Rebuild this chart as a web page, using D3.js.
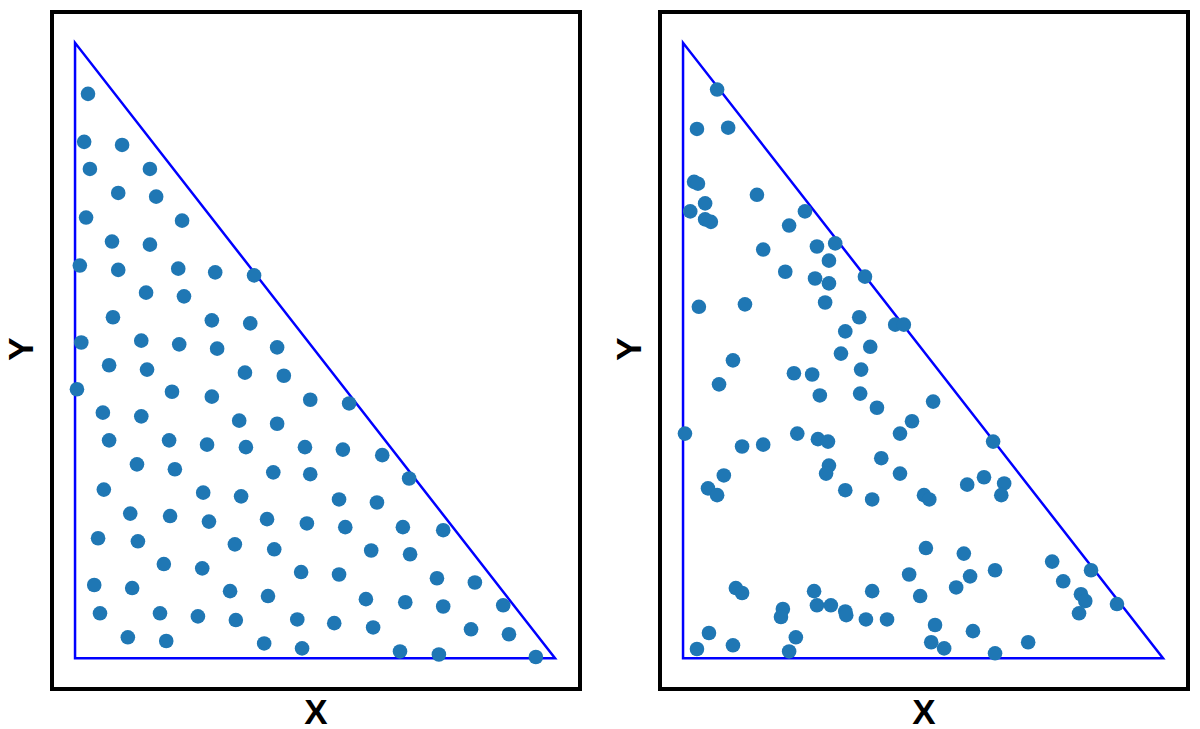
<!DOCTYPE html>
<html>
<head>
<meta charset="utf-8">
<script src="https://cdn.jsdelivr.net/npm/d3@7"></script>
<style>
  html, body { margin: 0; padding: 0; background: #fff; }
  svg { display: block; }
</style>
</head>
<body>
<svg id="chart" width="1200" height="729"></svg>
<script>
// Left panel: evenly spread points in the triangle
const leftX = [0.027,0.019,0.098,0.031,0.156,0.090,0.169,0.023,0.223,0.077,0.156,0.010,0.090,0.215,0.292,0.373,0.148,0.227,0.079,0.285,
  0.365,0.013,0.138,0.217,0.296,0.421,0.071,0.150,0.354,0.435,0.004,0.202,0.285,0.490,0.571,0.058,0.138,0.342,0.421,0.071,
  0.196,0.275,0.356,0.479,0.558,0.640,0.129,0.208,0.413,0.490,0.696,0.060,0.267,0.346,0.550,0.629,0.115,0.198,0.279,0.400,
  0.483,0.563,0.683,0.767,0.048,0.131,0.333,0.415,0.617,0.698,0.185,0.265,0.471,0.550,0.754,0.833,0.040,0.119,0.323,0.402,
  0.606,0.688,0.767,0.892,0.052,0.177,0.256,0.335,0.463,0.540,0.621,0.825,0.904,0.110,0.190,0.394,0.473,0.677,0.758,0.960];
const leftY = [0.917,0.839,0.834,0.795,0.795,0.756,0.750,0.716,0.711,0.677,0.672,0.638,0.631,0.633,0.627,0.622,0.594,0.588,0.554,0.549,
  0.544,0.513,0.516,0.510,0.503,0.505,0.476,0.469,0.464,0.459,0.437,0.433,0.425,0.420,0.414,0.399,0.393,0.386,0.381,0.354,
  0.354,0.347,0.343,0.343,0.339,0.330,0.315,0.307,0.302,0.299,0.292,0.274,0.269,0.263,0.258,0.253,0.235,0.231,0.222,0.226,
  0.219,0.213,0.213,0.208,0.195,0.190,0.185,0.177,0.175,0.169,0.153,0.146,0.140,0.136,0.130,0.123,0.119,0.114,0.109,0.101,
  0.096,0.091,0.084,0.086,0.073,0.073,0.068,0.062,0.063,0.057,0.050,0.047,0.039,0.034,0.028,0.024,0.016,0.011,0.006,0.002];

// Right panel: random points in the triangle
const rightX = [0.071,0.029,0.094,0.023,0.031,0.154,0.046,0.015,0.046,0.058,0.254,0.221,0.279,0.317,0.167,0.304,0.213,0.275,0.304,0.379,
  0.296,0.033,0.129,0.367,0.338,0.442,0.460,0.390,0.329,0.104,0.075,0.231,0.269,0.371,0.285,0.369,0.404,0.477,0.004,0.238,
  0.281,0.302,0.452,0.123,0.167,0.304,0.298,0.413,0.452,0.085,0.052,0.071,0.338,0.394,0.471,0.110,0.123,0.273,0.394,0.208,
  0.204,0.279,0.308,0.338,0.340,0.381,0.425,0.054,0.235,0.104,0.029,0.221,0.521,0.646,0.592,0.627,0.669,0.663,0.502,0.513,
  0.506,0.585,0.769,0.850,0.650,0.598,0.569,0.792,0.829,0.838,0.904,0.825,0.494,0.525,0.604,0.517,0.544,0.719,0.650];
const rightY = [0.924,0.860,0.862,0.774,0.771,0.753,0.739,0.726,0.713,0.709,0.726,0.703,0.669,0.674,0.664,0.646,0.628,0.617,0.609,0.620,
  0.578,0.571,0.575,0.554,0.531,0.542,0.542,0.506,0.495,0.484,0.445,0.463,0.461,0.469,0.427,0.430,0.407,0.385,0.365,0.365,
  0.356,0.352,0.365,0.344,0.347,0.313,0.300,0.325,0.300,0.297,0.276,0.265,0.273,0.258,0.136,0.114,0.106,0.109,0.109,0.080,
  0.067,0.086,0.086,0.076,0.070,0.063,0.063,0.041,0.034,0.021,0.015,0.011,0.417,0.352,0.282,0.294,0.284,0.265,0.265,0.258,
  0.179,0.170,0.157,0.143,0.143,0.133,0.115,0.125,0.104,0.093,0.088,0.073,0.101,0.054,0.044,0.026,0.016,0.026,0.008];

const triangle = [[0,0],[0,1],[1,0]];
const axisLabels = { x: "X", y: "Y" };

const svg = d3.select("#chart");

function drawPanel(offsetX, xs, ys) {
  const g = svg.append("g").attr("transform", `translate(${offsetX},0)`);
  const x = d3.scaleLinear().domain([-0.048, 1.052]).range([52, 580]);
  const y = d3.scaleLinear().domain([-0.05, 1.05]).range([689, 12]);

  // frame
  g.append("rect")
    .attr("x", x(-0.048)).attr("y", y(1.05))
    .attr("width", x(1.052) - x(-0.048)).attr("height", y(-0.05) - y(1.05))
    .attr("fill", "none").attr("stroke", "#000").attr("stroke-width", 4);

  // triangle
  const line = d3.line().x(d => x(d[0])).y(d => y(d[1]));
  g.append("path")
    .attr("d", line(triangle) + "Z")
    .attr("fill", "none").attr("stroke", "#0000ff").attr("stroke-width", 2.5)
    .attr("stroke-linejoin", "miter");

  // points
  const pts = xs.map((v, i) => [v, ys[i]]);
  g.selectAll("circle.pt").data(pts).enter().append("circle")
    .attr("class", "pt")
    .attr("cx", d => x(d[0])).attr("cy", d => y(d[1]))
    .attr("r", 7.3).attr("fill", "#1f77b4");

  // labels
  g.append("text")
    .attr("x", (x(-0.048) + x(1.052)) / 2).attr("y", 724)
    .attr("text-anchor", "middle")
    .attr("font-family", "'Liberation Sans', Arial, sans-serif")
    .attr("font-weight", "bold").attr("font-size", 35)
    .text(axisLabels.x);
  g.append("text")
    .attr("transform", `translate(33,349) rotate(-90)`)
    .attr("text-anchor", "middle")
    .attr("font-family", "'Liberation Sans', Arial, sans-serif")
    .attr("font-weight", "bold").attr("font-size", 35)
    .text(axisLabels.y);
}

drawPanel(0, leftX, leftY);
drawPanel(608, rightX, rightY);
</script>
</body>
</html>
